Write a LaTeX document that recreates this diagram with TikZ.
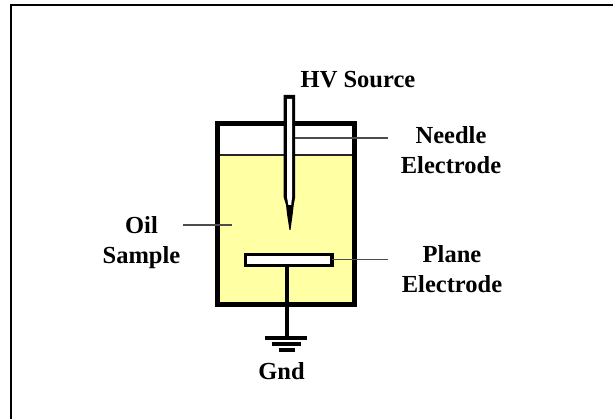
\documentclass[tikz,border=0pt]{standalone}
\usepackage{fontspec}
\setmainfont{Liberation Serif}
\tikzset{
  lbl/.style={font=\bfseries\fontsize{24.5}{30}\selectfont, text=black, align=center, inner sep=0pt},
  leader/.style={draw=black!70, line width=1.5pt},
  gndline/.style={draw=black, line width=3.6pt}
}
\definecolor{oil}{RGB}{255,255,163}
\begin{document}
\begin{tikzpicture}[x=1pt,y=-1pt]
\useasboundingbox (0,0) rectangle (613,419);
\draw[line width=2pt] (11,419) -- (11,5) -- (613,5);
% oil
\fill[oil] (217,155) rectangle (356,304);
\draw[draw=black!85, line width=1.4pt] (218,155) -- (355,155);
\node[draw=black, line width=5pt, outer sep=0pt, minimum width=137pt, minimum height=181pt, inner sep=0pt, anchor=north west] (tank) at (217.5,123.5) {};
% needle
\fill[black] (283.6,95) -- (295.2,95) -- (295.2,197) -- (293.7,205) -- (292.7,214) -- (290.5,230) -- (289.5,230) -- (287,214) -- (286,205) -- (283.6,197) -- cycle;
\fill[white] (287,99) -- (292,99) -- (292,197) -- (291.2,205) -- (288.4,205) -- (287,197) -- cycle;
\coordinate (needleR) at (295,138);
\coordinate (needleEnd) at (388,138);
\node[lbl] (hv) at (358,80) {HV Source};
\node[lbl] (ne) at (451,150) {Needle\\Electrode};
\draw[leader] (needleR) -- (needleEnd);
% plate
\node[draw=black, line width=3.6pt, outer sep=0pt, fill=white, minimum width=86.5pt, minimum height=11pt, inner sep=0pt, anchor=north west] (plate) at (245.5,254.5) {};
\coordinate (gtop) at (287,338);
\draw[line width=3.8pt] (plate.south -| gtop) -- (gtop);
\draw[gndline] (265.3,338) -- (306.7,338);
\draw[gndline] (271.7,344) -- (301,344);
\draw[gndline] (279.3,350) -- (295.3,350);
\node[lbl] (gnd) at (281.5,371) {Gnd};
\node[lbl] (pe) at (452,269) {Plane\\Electrode};
\coordinate (plateEnd) at (388,259.5);
\draw[leader] (plate.east |- plateEnd) -- (plateEnd);
\node[lbl] (oil) at (141.5,243) {Oil\\Sample};
\coordinate (oilStart) at (183,225);
\coordinate (oilEnd) at (232,225);
\draw[leader] (oilStart) -- (oilEnd);
\end{tikzpicture}
\end{document}
